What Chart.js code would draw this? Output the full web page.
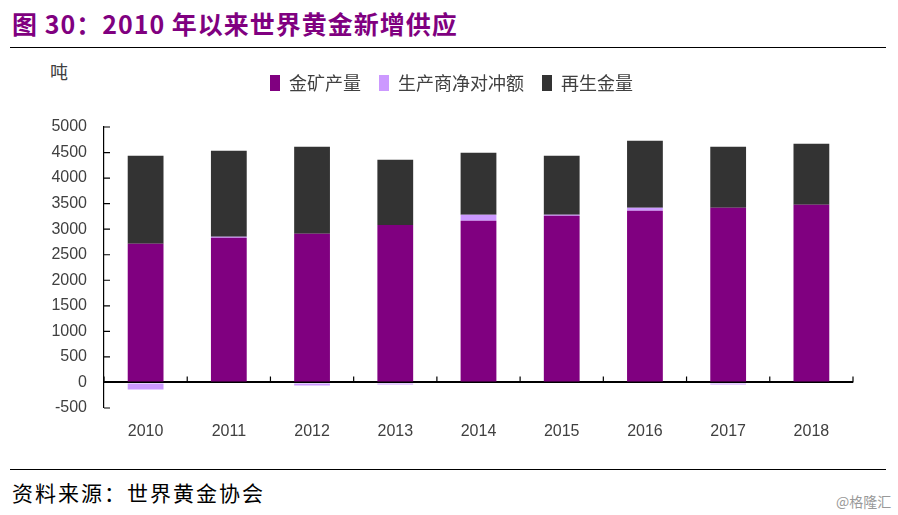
<!DOCTYPE html>
<html>
<head>
<meta charset="utf-8">
<script src="https://cdn.jsdelivr.net/npm/chart.js@4/dist/chart.umd.min.js"></script>
<style>
  body { margin: 0; width: 898px; height: 515px; background: #fff; position: relative; overflow: hidden; font-family: "Noto Sans CJK SC", sans-serif; }
  #title { position: absolute; left: 12px; top: 5px; font-size: 25px; font-weight: bold; color: #800080; letter-spacing: 1px; white-space: nowrap; }
  .rule { position: absolute; left: 10px; width: 876px; height: 0; border-top: 1.5px solid #000; }
  #unit { position: absolute; left: 50px; top: 58px; font-size: 18px; color: #404040; }
  #source { position: absolute; left: 12px; top: 477px; font-size: 21px; letter-spacing: 2px; color: #000; white-space: nowrap; }
  #mark { position: absolute; left: 836px; top: 491px; font-size: 14px; color: #999; }
  #wrap { position: absolute; left: 0; top: 50px; width: 898px; height: 410px; }
</style>
</head>
<body>
<div id="title">图 30：2010 年以来世界黄金新增供应</div>
<div class="rule" style="top:47px"></div>
<div id="unit">吨</div>
<div id="wrap"><canvas id="chartCanvas"></canvas></div>
<div class="rule" style="top:469px"></div>
<div id="source">资料来源：世界黄金协会</div>
<div id="mark">@格隆汇</div>
<script>
const years = ["2010", "2011", "2012", "2013", "2014", "2015", "2016", "2017", "2018"];
const mineOutput = [2716, 2833, 2911, 3082, 3166, 3264, 3362, 3421, 3479];
const netHedging = [-137, 20, -59, -40, 118, 20, 59, -40, -20];
const recycledGold = [1723, 1684, 1704, 1279, 1214, 1155, 1312, 1194, 1195];

// short tick marks on the axes, drawn inward like the original
const tickMarks = {
    id: "tickMarks",
    afterDraw(chart) {
        const ctx = chart.ctx;
        const x = chart.scales.x;
        const y = chart.scales.y;
        const zero = y.getPixelForValue(0);
        ctx.save();
        ctx.strokeStyle = "#000";
        ctx.lineWidth = 1.2;
        ctx.beginPath();
        y.ticks.forEach(t => {
            const py = y.getPixelForValue(t.value);
            ctx.moveTo(x.left, py);
            ctx.lineTo(x.left + 6, py);
        });
        const step = (x.right - x.left) / years.length;
        for (let i = 0; i <= years.length; i++) {
            const px = x.left + step * i;
            ctx.moveTo(px, zero);
            ctx.lineTo(px, zero - 6);
        }
        ctx.stroke();
        ctx.restore();
    }
};

// extra room between the legend and the plot
const legendGap = {
    id: "legendGap",
    beforeInit(chart) {
        const fit = chart.legend.fit;
        chart.legend.fit = function () {
            fit.bind(chart.legend)();
            this.height += 25;
        };
    }
};

const ctx = document.getElementById("chartCanvas").getContext("2d");
const chart = new Chart(ctx, {
    type: "bar",
    data: {
        labels: years,
        datasets: [
            { label: "金矿产量", data: mineOutput, backgroundColor: "#800080" },
            { label: "生产商净对冲额", data: netHedging, backgroundColor: "#CC99FF" },
            { label: "再生金量", data: recycledGold, backgroundColor: "#333333" }
        ]
    },
    options: {
        responsive: true,
        maintainAspectRatio: false,
        animation: false,
        datasets: { bar: { categoryPercentage: 1, barPercentage: 0.43 } },
        layout: { padding: { top: 6, right: 45, bottom: 0, left: 50 } },
        plugins: {
            tooltip: { enabled: false },
            legend: {
                position: "top",
                labels: {
                    font: { family: "Noto Sans CJK SC", size: 18 },
                    color: "#404040",
                    boxWidth: 10,
                    boxHeight: 16,
                    padding: 18
                }
            }
        },
        scales: {
            x: {
                stacked: true,
                grid: { display: false },
                border: { display: false },
                ticks: { font: { family: "Liberation Sans", size: 16 }, color: "#404040", padding: 6 },
                afterFit: s => { s.height = 52; }
            },
            y: {
                stacked: true,
                min: -500,
                max: 5000,
                grid: {
                    drawTicks: false,
                    color: c => (c.tick && c.tick.value === 0 ? "#000" : "rgba(0,0,0,0)"),
                    lineWidth: c => (c.tick && c.tick.value === 0 ? 2 : 0)
                },
                border: { display: true, color: "#000", width: 1.2 },
                ticks: {
                    stepSize: 500,
                    callback: v => String(v),
                    font: { family: "Liberation Sans", size: 16 },
                    color: "#404040",
                    padding: 17
                },
                afterFit: s => { s.width = 54; }
            }
        }
    },
    plugins: [tickMarks, legendGap]
});
</script>
</body>
</html>
